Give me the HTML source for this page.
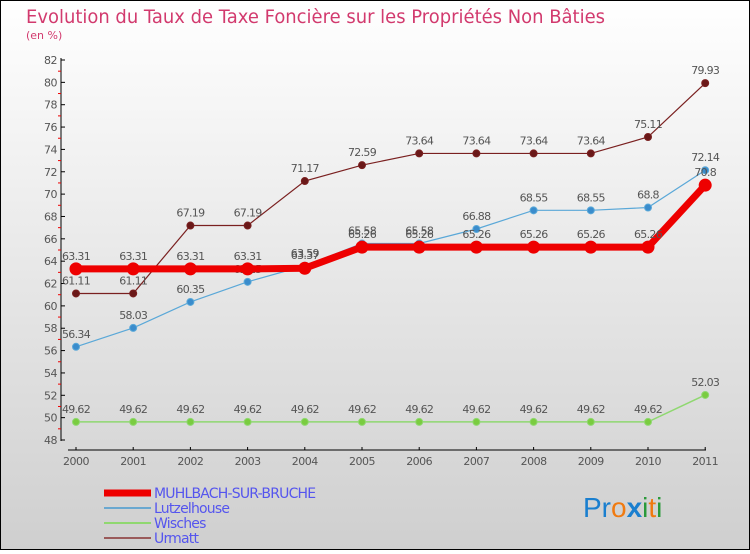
<!DOCTYPE html>
<html><head><meta charset="utf-8"><style>
body{margin:0;width:750px;height:550px;overflow:hidden;font-family:"DejaVu Sans","Liberation Sans",sans-serif}
</style></head><body>
<svg id="chart" width="750" height="550" xmlns="http://www.w3.org/2000/svg">
<defs><linearGradient id="bg" x1="0" y1="0" x2="0" y2="1"><stop offset="0" stop-color="#ffffff"/><stop offset="1" stop-color="#cfcfcf"/></linearGradient></defs>
<rect x="0.5" y="0.5" width="749" height="549" fill="url(#bg)" stroke="#000"/>
<text x="26" y="23" font-size="19" fill="#d23a6e" textLength="579" lengthAdjust="spacingAndGlyphs">Evolution du Taux de Taxe Foncière sur les Propriétés Non Bâties</text>
<text x="26" y="39" font-size="11" fill="#d23a6e">(en %)</text>
<g id="axes"></g><g id="series"></g><g id="legend"></g>
<text x="583" y="517" font-size="28" font-family="Liberation Sans, sans-serif"><tspan fill="#1a7fcf">Pr</tspan><tspan fill="#f07a10">o</tspan><tspan fill="#1a7fcf" font-weight="bold">x</tspan><tspan fill="#2a9a3a">i</tspan><tspan fill="#f07a10">t</tspan><tspan fill="#2a9a3a">i</tspan></text>
</svg>
<script>
const years=["2000","2001","2002","2003","2004","2005","2006","2007","2008","2009","2010","2011"];
const muhlbach=[63.31,63.31,63.31,63.31,63.37,65.26,65.26,65.26,65.26,65.26,65.26,70.8];
const lutzelhouse=[56.34,58.03,60.35,62.15,63.59,65.58,65.58,66.88,68.55,68.55,68.8,72.14];
const wisches=[49.62,49.62,49.62,49.62,49.62,49.62,49.62,49.62,49.62,49.62,49.62,52.03];
const urmatt=[61.11,61.11,67.19,67.19,71.17,72.59,73.64,73.64,73.64,73.64,75.11,79.93];
const yTicks=[48,50,52,54,56,58,60,62,64,66,68,70,72,74,76,78,80,82];
const NS="http://www.w3.org/2000/svg";
const X=i=>76+i*57.2;
const Y=v=>440-(v-48)*380/34;
function mk(t,a,p){const e=document.createElementNS(NS,t);for(const k in a)e.setAttribute(k,a[k]);p.appendChild(e);return e;}
const ax=document.getElementById('axes');
let l=mk('line',{x1:61,y1:58,x2:61,y2:441,stroke:'#000'},ax);


l=mk('line',{x1:68,y1:450,x2:706,y2:450,stroke:'#000'},ax);


yTicks.forEach(v=>{const y=Y(v);mk('line',{x1:61,y1:y,x2:65,y2:y,stroke:'#000'},ax);
if(v<82)mk('line',{x1:58,y1:Y(v+1),x2:61,y2:Y(v+1),stroke:'#e00'},ax);
const t=mk('text',{x:57,y:y+4,'font-size':11,fill:'#555','text-anchor':'end','letter-spacing':'-0.5'},ax);t.textContent=v;

});
years.forEach((yr,i)=>{mk('line',{x1:X(i),y1:447,x2:X(i),y2:450,stroke:'#000'},ax);
const t=mk('text',{x:X(i),y:465,'font-size':11,fill:'#555','text-anchor':'middle','letter-spacing':'-0.5'},ax);t.textContent=yr;

});
const sg=document.getElementById('series');
function draw(vals,color,lw,r,name,stroke){const g=mk('g',{},sg);


mk('polyline',{points:vals.map((v,i)=>X(i)+','+Y(v)).join(' '),fill:'none',stroke:color,'stroke-width':lw},g);
vals.forEach((v,i)=>{const c=mk('circle',{cx:X(i),cy:Y(v),r:r,fill:stroke,stroke:color,'stroke-width':1},g);


const t=mk('text',{x:X(i),y:Y(v)-9,'font-size':11,fill:'#555','text-anchor':'middle','letter-spacing':'-0.7'},g);t.textContent=v;

});}
draw(urmatt,'#7a2020',1.2,3.5,'urmatt','#6a1818');
draw(wisches,'#8fd870',1.5,3.5,'wisches','#7acc40');
draw(lutzelhouse,'#5aa8d8',1.2,3.5,'lutzelhouse','#3a8ccc');
draw(muhlbach,'#ee0000',7,6,'muhlbach','#ee0000');
const lg=document.getElementById('legend');
[['MUHLBACH-SUR-BRUCHE','#ee0000',7,493],['Lutzelhouse','#6aa8d0',2,508],['Wisches','#90d870',2,523],['Urmatt','#9a5a5a',2,538]].forEach(([n,c,w,y])=>{
const g=mk('g',{},lg);


mk('line',{x1:104,y1:y,x2:151,y2:y,stroke:c,'stroke-width':w},g);
const t=mk('text',{x:154,y:y+5,'font-size':14,fill:'#5555ee','letter-spacing':'-0.8'},g);t.textContent=n;});
</script>
</body></html>
